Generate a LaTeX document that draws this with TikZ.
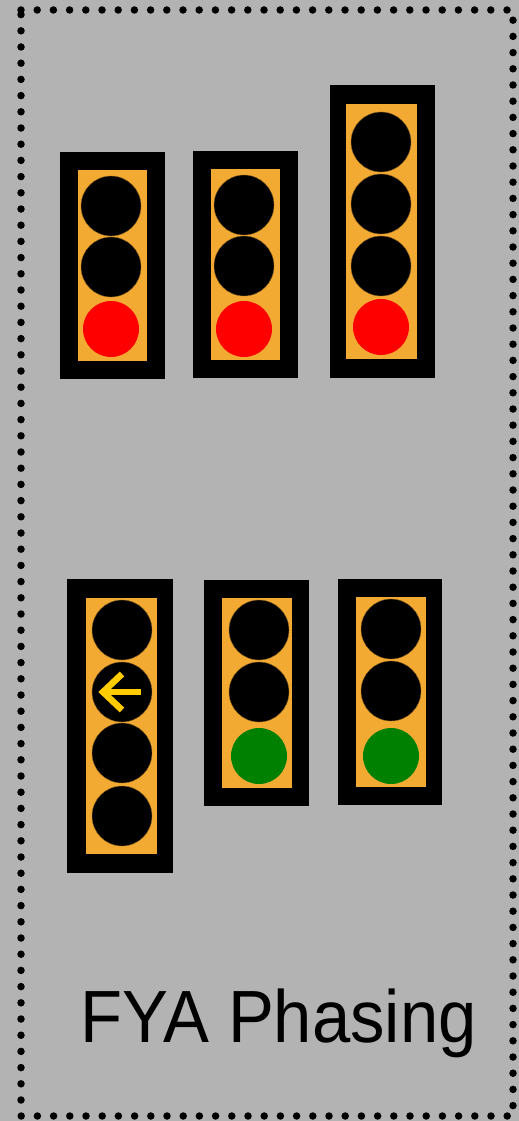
\documentclass[tikz,border=0pt]{standalone}
\usepackage{fontspec}
\setmainfont{Liberation Sans}
\definecolor{bggray}{RGB}{179,179,179}
\definecolor{panel}{RGB}{243,170,51}
\definecolor{lampred}{RGB}{255,0,0}
\definecolor{lampgreen}{RGB}{0,128,0}
\definecolor{arrowyellow}{RGB}{255,204,0}
\begin{document}
\begin{tikzpicture}[x=1pt,y=-1pt,
  housing/.style={fill=black},
  panelbox/.style={fill=panel},
  lamp/.style={circle,fill=black,draw=panel!60!black,line width=0.4pt,minimum size=60pt,inner sep=0pt},
  redlamp/.style={circle,fill=lampred,minimum size=56pt,inner sep=0pt},
  greenlamp/.style={circle,fill=lampgreen,minimum size=56pt,inner sep=0pt},
  arrowline/.style={arrowyellow,line width=6.5pt},
  dotborder/.style={line width=7.5pt,line cap=round,dash pattern=on 0pt off 16.2pt}]
\useasboundingbox (0,0) rectangle (519,1121);
\fill[bggray] (0,0) rectangle (519,1121);
\draw[dotborder] (21,10) -- (513,10) -- (513,1116) -- (21,1116) -- cycle;
% light 1
\fill[housing] (60,152) rectangle (165,379);
\fill[panelbox] (78,170) rectangle (147,361);
\node[lamp] (a1) at (111,206) {};
\node[lamp] (a2) at (111,267) {};
\node[redlamp] (a3) at (111,329) {};
% light 2
\fill[housing] (193,151) rectangle (298,378);
\fill[panelbox] (211,169) rectangle (280,360);
\node[lamp] (b1) at (244,205) {};
\node[lamp] (b2) at (244,266) {};
\node[redlamp] (b3) at (244,329) {};
% light 3
\fill[housing] (330,85) rectangle (435,378);
\fill[panelbox] (346,104) rectangle (417,359);
\node[lamp] (c1) at (381,142) {};
\node[lamp] (c2) at (381,204) {};
\node[lamp] (c3) at (381,266) {};
\node[redlamp] (c4) at (381,327) {};
% light 4 (FYA)
\fill[housing] (67,579) rectangle (173,873);
\fill[panelbox] (86,598) rectangle (157,854);
\node[lamp] (d1) at (122,630) {};
\node[lamp] (d2) at (122,692) {};
\node[lamp] (d3) at (122,753) {};
\node[lamp] (d4) at (122,816) {};
\draw[arrowline] (d2.center) ++(19,0) coordinate (ae) -- ++(-38,0) coordinate (ab);
\draw[arrowline,line join=miter] (ab) ++(19,-18) -- (ab) -- ++(19,18);
% light 5
\fill[housing] (204,580) rectangle (309,806);
\fill[panelbox] (222,598) rectangle (292,788);
\node[lamp] (e1) at (259,630) {};
\node[lamp] (e2) at (259,692) {};
\node[greenlamp] (e3) at (259,756) {};
% light 6
\fill[housing] (338,579) rectangle (442,805);
\fill[panelbox] (356,597) rectangle (426,787);
\node[lamp] (f1) at (391,629) {};
\node[lamp] (f2) at (391,691) {};
\node[greenlamp] (f3) at (391,756) {};
% label
\node[anchor=base west,inner sep=0pt] (title) at (80,1042) {\scalebox{0.93}[1]{\fontsize{74}{80}\selectfont FYA Phasing}};
\end{tikzpicture}
\end{document}
